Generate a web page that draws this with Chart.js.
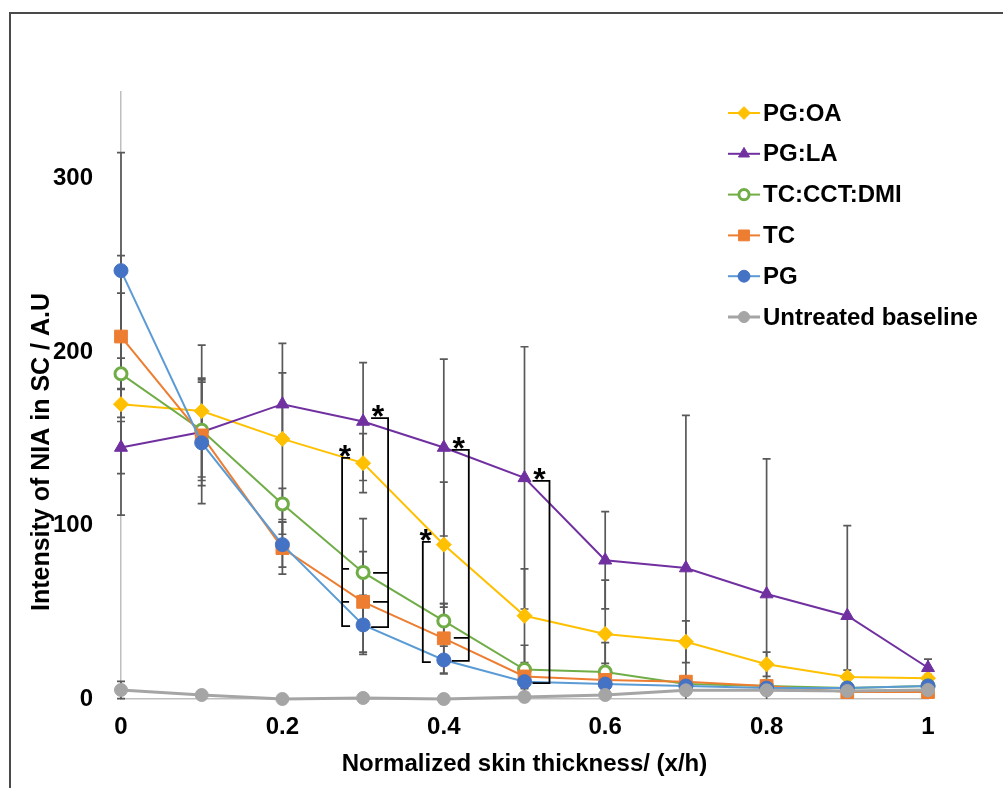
<!DOCTYPE html>
<html>
<head>
<meta charset="utf-8">
<title>NIA intensity across skin depth</title>
<script src="https://cdn.jsdelivr.net/npm/chart.js@4.4.1/dist/chart.umd.min.js"></script>
<style>
  html, body { margin: 0; padding: 0; background: #fff; }
  #wrap { width: 1003px; height: 788px; position: relative; }
</style>
</head>
<body>
<div id="wrap"><canvas id="niaChart"></canvas></div>
<script>
// normalized depth (x/h)
const depth = [0, 0.1, 0.2, 0.3, 0.4, 0.5, 0.6, 0.7, 0.8, 0.9, 1];

const seriesNames = ["PG:OA", "PG:LA", "TC:CCT:DMI", "TC", "PG", "Untreated baseline"];

const pgOA = [170, 166, 150, 136, 89, 48, 37.5, 33, 20, 12.7, 12];
const pgOAErr = [64, 38, 55, 17, 36, 27, 31, 12, 7, 4, 2];
const pgLA = [145, 154, 170, 160, 145, 127.5, 80, 75.5, 60.5, 48, 18];
const pgLAErr = [15, 31, 18, 34, 51, 75.6, 28, 88, 78, 52, 5];
const tcCctDmi = [187.5, 155, 112.5, 73, 45, 17, 15.5, 8.6, 7.5, 6.3, 7.5];
const tcCctDmiErr = [9, 29, 9, 31, 10, 14, 17, 3, 3, 2, 3];
const tc = [209, 152, 87, 56, 35, 13, 11, 10, 7.5, 4, 4];
const tcErr = [46.6, 5, 15, 29, 20, 6, 9.5, 3, 2, 2, 2];
const pg = [247, 147.7, 89, 42.7, 22.5, 10, 8.6, 7.5, 6.3, 6.3, 7.5];
const pgErr = [68, 35, 13, 17, 8, 4, 3, 2, 2, 2, 2];
const baseline = [5.2, 2.3, 0, 0.6, 0, 1.2, 2.3, 5, 5, 4.6, 5.2];
const baselineErr = [5, 2, 1, 1, 1, 1, 1, 2, 2, 2, 2];

const xTicks = [0, 0.2, 0.4, 0.6, 0.8, 1];
const xTickLabels = ["0", "0.2", "0.4", "0.6", "0.8", "1"];
const yTicks = [0, 100, 200, 300];

// significance brackets (depth, side of the point, y range, inner ticks)
const bracketAt = [0.3, 0.3, 0.4, 0.4, 0.5];
const bracketSide = ["left", "right", "left", "right", "right"];
const bracketTop = [139, 162, 90.6, 143.7, 125.8];
const bracketBottom = [42, 41.5, 21.3, 22, 9.2];
const bracketMids = [[75, 56], [72.7, 56], [], [35.2], []];

const FONT = '"Liberation Sans", Arial, sans-serif';

function pts(vals) {
  return vals.map((v, i) => ({ x: depth[i], y: v }));
}

const datasets = [
  { label: seriesNames[0], data: pts(pgOA), err: pgOAErr, order: 6,
    borderColor: "#FFC000", backgroundColor: "#FFC000", borderWidth: 2,
    pointStyle: "rectRot", pointRadius: 7.5, pointBorderWidth: 1 },
  { label: seriesNames[1], data: pts(pgLA), err: pgLAErr, order: 5,
    borderColor: "#7030A0", backgroundColor: "#7030A0", borderWidth: 2,
    pointStyle: "triangle", pointRadius: 7.5, pointBorderWidth: 1 },
  { label: seriesNames[2], data: pts(tcCctDmi), err: tcCctDmiErr, order: 4,
    borderColor: "#70AD47", backgroundColor: "#ffffff", borderWidth: 2,
    pointBorderColor: "#70AD47", pointBackgroundColor: "#ffffff",
    pointStyle: "circle", pointRadius: 6, pointBorderWidth: 3 },
  { label: seriesNames[3], data: pts(tc), err: tcErr, order: 3,
    borderColor: "#ED7D31", backgroundColor: "#ED7D31", borderWidth: 2,
    pointStyle: "rect", pointRadius: 9, pointBorderWidth: 1 },
  { label: seriesNames[4], data: pts(pg), err: pgErr, order: 2,
    borderColor: "#5B9BD5", backgroundColor: "#4472C4", borderWidth: 2,
    pointBorderColor: "#4472C4", pointBackgroundColor: "#4472C4",
    pointStyle: "circle", pointRadius: 7, pointBorderWidth: 1 },
  { label: seriesNames[5], data: pts(baseline), err: baselineErr, order: 1,
    borderColor: "#A5A5A5", backgroundColor: "#A5A5A5", borderWidth: 3,
    pointStyle: "circle", pointRadius: 6.5, pointBorderWidth: 1 }
];
datasets.forEach(ds => { ds.clip = false; });

// white page + the outer frame lines
const framePlugin = {
  id: "frame",
  beforeDraw(chart) {
    const ctx = chart.ctx;
    ctx.save();
    ctx.fillStyle = "#fff";
    ctx.fillRect(0, 0, chart.width, chart.height);
    ctx.strokeStyle = "#4a4a4a";
    ctx.lineWidth = 2;
    ctx.beginPath();
    ctx.moveTo(10, chart.height);
    ctx.lineTo(10, 13);
    ctx.lineTo(chart.width, 13);
    ctx.stroke();
    ctx.restore();
  }
};

// vertical error bars with caps, drawn under the markers
const errorBarPlugin = {
  id: "errorBars",
  beforeDatasetsDraw(chart) {
    const ctx = chart.ctx;
    const xs = chart.scales.x, ys = chart.scales.y;
    const area = chart.chartArea;
    ctx.save();
    ctx.strokeStyle = "#595959";
    ctx.lineWidth = 1.7;
    chart.data.datasets.forEach(ds => {
      ds.data.forEach((p, i) => {
        const e = ds.err[i];
        const px = xs.getPixelForValue(p.x);
        let hi = ys.getPixelForValue(p.y + e);
        let lo = ys.getPixelForValue(p.y - e);
        const loCap = lo <= area.bottom;
        lo = Math.min(lo, area.bottom);
        hi = Math.max(hi, area.top);
        ctx.beginPath();
        ctx.moveTo(px, hi);
        ctx.lineTo(px, lo);
        ctx.moveTo(px - 4, hi);
        ctx.lineTo(px + 4, hi);
        if (loCap) {
          ctx.moveTo(px - 4, lo);
          ctx.lineTo(px + 4, lo);
        }
        ctx.stroke();
      });
    });
    ctx.restore();
  }
};

// square brackets with asterisks
const bracketPlugin = {
  id: "brackets",
  afterDatasetsDraw(chart) {
    const ctx = chart.ctx;
    const xs = chart.scales.x, ys = chart.scales.y;
    ctx.save();
    ctx.strokeStyle = "#000";
    ctx.fillStyle = "#000";
    ctx.lineWidth = 1.8;
    ctx.font = "bold 32px " + FONT;
    ctx.textAlign = "center";
    ctx.textBaseline = "alphabetic";
    bracketAt.forEach((d, i) => {
      const left = bracketSide[i] === "left";
      const bx = xs.getPixelForValue(d) + (left ? -21 : 25);
      const dir = left ? 1 : -1;
      const endLen = left ? 8 : 17;
      const top = ys.getPixelForValue(bracketTop[i]);
      const bottom = ys.getPixelForValue(bracketBottom[i]);
      ctx.beginPath();
      ctx.moveTo(bx + dir * endLen, top);
      ctx.lineTo(bx, top);
      ctx.lineTo(bx, bottom);
      ctx.lineTo(bx + dir * endLen, bottom);
      bracketMids[i].forEach(v => {
        const my = ys.getPixelForValue(v);
        ctx.moveTo(bx, my);
        ctx.lineTo(bx + dir * (left ? 7 : 15), my);
      });
      ctx.stroke();
      ctx.fillText("*", bx + dir * (left ? 3 : 10), top + 9);
    });
    ctx.restore();
  }
};

// legend in the upper right plus the rotated y title
const legendPlugin = {
  id: "sideLegend",
  afterDraw(chart) {
    const ctx = chart.ctx;
    const area = chart.chartArea;
    const x0 = area.right - 200;
    ctx.save();
    ctx.font = "bold 24px " + FONT;
    ctx.textAlign = "left";
    ctx.textBaseline = "middle";
    seriesNames.forEach((name, i) => {
      const ds = chart.data.datasets[i];
      const y = area.top + 21 + i * 40.8;
      ctx.strokeStyle = ds.borderColor;
      ctx.lineWidth = ds.borderWidth;
      ctx.beginPath();
      ctx.moveTo(x0, y);
      ctx.lineTo(x0 + 32, y);
      ctx.stroke();
      ctx.fillStyle = ds.pointBackgroundColor || ds.backgroundColor;
      ctx.strokeStyle = ds.pointBorderColor || ds.borderColor;
      ctx.lineWidth = ds.pointBorderWidth;
      Chart.helpers.drawPoint(ctx, {
        pointStyle: ds.pointStyle,
        radius: ds.pointRadius * 0.85,
        rotation: 0,
        borderWidth: ds.pointBorderWidth
      }, x0 + 16, y);
      ctx.fillStyle = "#000";
      ctx.fillText(name, x0 + 35, y + 1);
    });

    ctx.font = "bold 25px " + FONT;
    ctx.translate(area.left - 79, area.bottom - 247);
    ctx.rotate(-Math.PI / 2);
    ctx.textAlign = "center";
    ctx.fillText("Intensity of NIA in SC / A.U", 0, 0);
    ctx.restore();
  }
};

const ctx = document.getElementById("niaChart").getContext("2d");
const chart = new Chart(ctx, {
  type: "line",
  data: { datasets: datasets },
  options: {
    responsive: true,
    maintainAspectRatio: false,
    animation: false,
    layout: { padding: { top: 92, right: 75, bottom: 0, left: 0 } },
    elements: { line: { tension: 0 } },
    plugins: {
      legend: { display: false },
      tooltip: { enabled: false }
    },
    scales: {
      x: {
        type: "linear",
        min: 0,
        max: 1,
        afterBuildTicks: s => { s.ticks = xTicks.map(v => ({ value: v })); },
        afterFit: s => { s.height = 89; },
        grid: { display: false, drawTicks: false },
        border: { display: true, color: "#bfbfbf", width: 1.5 },
        ticks: {
          padding: 14,
          color: "#000",
          font: { family: FONT, size: 24, weight: "bold" },
          callback: (v, i) => xTickLabels[i]
        },
        title: {
          display: true,
          text: "Normalized skin thickness/ (x/h)",
          color: "#000",
          font: { family: FONT, size: 24, weight: "bold" },
          padding: { top: 0, bottom: 9 }
        }
      },
      y: {
        min: 0,
        max: 350,
        afterBuildTicks: s => { s.ticks = yTicks.map(v => ({ value: v })); },
        afterFit: s => { s.width = 121; },
        grid: { display: false, drawTicks: false },
        border: { display: true, color: "#bfbfbf", width: 1.5 },
        ticks: {
          padding: 28,
          color: "#000",
          font: { family: FONT, size: 24, weight: "bold" }
        }
      }
    }
  },
  plugins: [framePlugin, errorBarPlugin, bracketPlugin, legendPlugin]
});
</script>
</body>
</html>
